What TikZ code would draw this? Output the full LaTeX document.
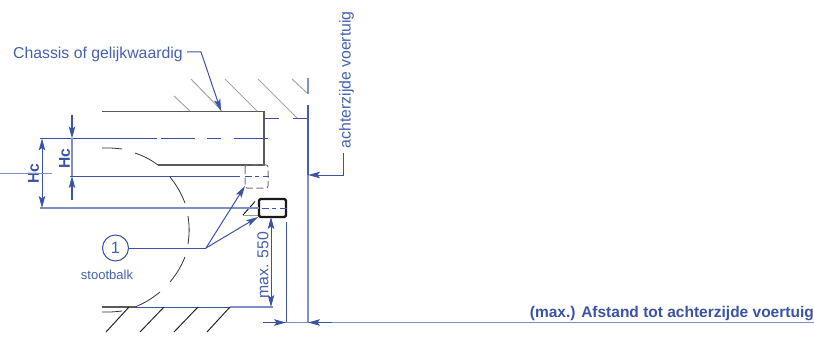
\documentclass[tikz,border=0pt]{standalone}
\usepackage{fontspec}
\setmainfont{Liberation Sans}
\usepackage{tikz}
\usetikzlibrary{positioning,calc,arrows.meta}
\tikzset{>={Stealth[length=12pt,width=6.5pt,inset=2.5pt]}}
\definecolor{maatblauw}{HTML}{3A53A4}
\definecolor{maatlicht}{HTML}{7F90C6}
\definecolor{tekstblauw}{HTML}{4460AE}
\tikzset{
  maat/.style={draw=maatblauw,line width=1pt},
  hulp/.style={draw=maatlicht,line width=1.2pt},
  arcering/.style={draw=black!35,line width=1pt},
  lijn/.style={draw=black!65,line width=1.3pt},
  wiel/.style={draw=black!80,line width=.8pt},
  grond/.style={draw=black!85,line width=1pt},
  label/.style={text=tekstblauw,font=\fontsize{15.8}{18}\selectfont,inner sep=0pt},
  vetlabel/.style={text=maatblauw,inner sep=0pt},
}
\begin{document}
\begin{tikzpicture}[x=1pt,y=-1pt]
\useasboundingbox (0,0) rectangle (814,342);
% chassis
\coordinate (ca) at (102,111.5);
\coordinate (cb) at (264,111.5);
\coordinate (cc) at (264,165);
\coordinate (cd) at (158,165);
\draw[lijn] (ca) -- (cb) -- (cc) -- (cd);
% arcering boven
\draw[arcering] (174,96) -- (190,111);
\draw[arcering] (191,79) -- (222,111);
\draw[arcering] (225,79) -- (257,111);
\draw[arcering] (258,79) -- (298,119);
\draw[arcering] (292,79) -- (307,93);
% wiel
\draw[wiel] (102,148) to[bend left=4] (122,149);
\draw[wiel] (135,153) to[bend left=8] (158,165);
\draw[wiel] (170,177) to[bend left=8] (185,203);
\draw[wiel] (188,216) to[bend left=8] (188,244);
\draw[wiel] (185,257) to[bend left=8] (170,282);
\draw[wiel] (160,292) to[bend left=8] (135,307);
\draw[wiel] (122,311) to[bend left=4] (102,312);
% grond
\draw[hulp] (230,307) -- (273,307);
\draw[lijn] (102,307) -- (135,307);
\draw[maat] (135,307) -- (230,307);
\draw[grond] (129,307) -- (106,332);
\draw[grond] (164,307) -- (140,332);
\draw[grond] (198,307) -- (174,332);
\draw[grond] (230,307) -- (207,332);
% stootbalk
\draw[black!55,line width=1pt,dash pattern=on 7pt off 3.5pt,rounded corners=2pt] (245,165) rectangle (268,188);
\draw[black,line width=.8pt] (255,201.5) -- (243,215);
\draw[black!40,line width=.6pt] (243,215) -- (258,215);
\draw[black!90,line width=2.4pt,rounded corners=1.5pt] (259,199) rectangle (286,217);
% hartlijnen
\draw[maat,dash pattern=on 117pt off 4pt on 34pt off 12pt on 14pt off 13pt on 34pt] (40,138.5) -- (268,138.5);
\draw[maat] (70,176) -- (240,176);
\draw[maat,dash pattern=on 7pt off 3pt on 4pt off 4pt on 7pt] (245,176) -- (269,176);
\draw[hulp] (40,208) -- (259,208);
\draw[maat,dash pattern=on 7pt off 3pt on 4pt off 4pt on 7pt] (262,208) -- (287,208);
\draw[maat] (264,119) -- (279,119);
\draw[maat] (293,119) -- (308,119);
% achterzijde
\draw[hulp,line width=1.6pt] (307.7,78) -- (307.7,94);
\draw[hulp,line width=1.6pt] (307.7,105) -- (307.7,323);
\draw[maat,line width=1.6pt,draw opacity=.8] (307.7,105) -- (307.7,175);
% maat Hc
\node[vetlabel,font=\fontsize{15.6}{18}\bfseries\selectfont,rotate=90] (hcbuiten) at (33.5,174) {Hc};
\node[vetlabel,font=\fontsize{15.6}{18}\bfseries\selectfont,rotate=90] (hcbinnen) at (64.5,159) {Hc};
\coordinate (hba) at (42,138.5);
\coordinate (hbb) at (42,208);
\draw[hulp,<->,line width=1pt,maatblauw] (hba) -- (hbb);
\draw[hulp] (0,173.5) -- (52,173.5);
\coordinate (hia) at (72,115);
\coordinate (hib) at (72,138.5);
\coordinate (hic) at (72,176);
\coordinate (hid) at (72,200);
\draw[hulp] (hib) -- (hic);
\draw[hulp,->,maatblauw] (hia) -- (hib);
\draw[hulp,->,maatblauw] (hid) -- (hic);
% chassis label
\node[label,anchor=west] (chassis) at (13,54) {Chassis of gelijkwaardig};
\coordinate (cknik) at (201,52);
\coordinate (cpijl) at (221,111);
\draw[maat,->] (187,52) -- (cknik) -- (cpijl);
% nummer 1
\node[draw=maatblauw,circle,minimum size=26pt,inner sep=0pt,line width=1pt,text=tekstblauw,font=\fontsize{16.5}{18}\selectfont] (een) at (115.5,248) {1};
\node[label,font=\fontsize{13}{15}\selectfont,below=8pt of een,xshift=-8.5pt] (stootbalk) {stootbalk};
\coordinate (knik) at (206,248);
\coordinate (balka) at (245,186);
\coordinate (balkb) at (258,217);
\draw[maat] (een) -- (knik);
\draw[maat,->] (knik) -- (balka);
\draw[maat,->] (knik) -- (balkb);
% maat 550
\node[label,rotate=90] (max) at (263,265) {max. 550};
\coordinate (ma) at (271,217);
\coordinate (mb) at (271,307);
\draw[maat,<->] (ma) -- (mb);
% afstand
\draw[maat] (286,222) -- (286,323);
\coordinate (pa) at (286,322.5);
\coordinate (pb) at (308,322.5);
\draw[hulp] (263,322.5) -- (814,322.5);
\draw[maat,->] (263,322.5) -- (pa);
\draw[maat,->] (332,322.5) -- (pb);
\node[vetlabel,anchor=east,font=\fontsize{15.5}{18}\bfseries\selectfont] (afstand) at (814,313.5) {(max.) Afstand tot achterzijde voertuig};
% label achterzijde
\node[label,rotate=90,anchor=west] (achter) at (346.5,148.5) {achterzijde voertuig};
\coordinate (aknik) at (343,175);
\coordinate (apijl) at (308,175);
\draw[maat,->] (343,153) -- (aknik) -- (apijl);
\end{tikzpicture}
\end{document}
